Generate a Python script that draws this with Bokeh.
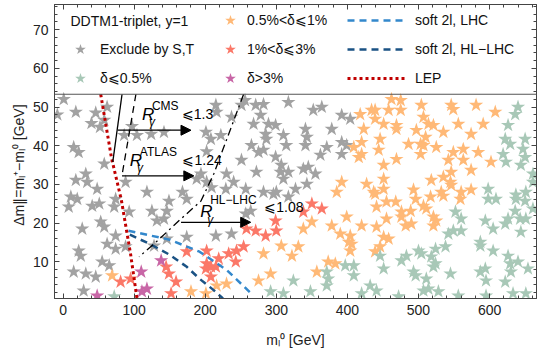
from bokeh.plotting import figure
from bokeh.models import (Range1d, LinearAxis, SingleIntervalTicker, Span, Label,
                          Legend, LegendItem, Arrow, NormalHead, CustomLabelingPolicy)
from bokeh.embed import file_html
from bokeh.resources import INLINE

FONT = "Liberation Sans"

# ---------------- data ----------------
grey_x = [1, 18, 46, 58, 52, 40, 62, 86, 104, 124, 142, 15, 22, 58, 32, 18, 34, 48, 88, 118,
          194, 202, 208, 201, -8, 97, 202, 251, 188, 209, 168, 256, 216,
          215, 251, 271, 282, 317, 352, 364, 237, 268, 278, 289, 299, 285, 286, 310, 222, 341,
          343, 378, 392, 404, 392, 399, 392, 265, 275, 282, 314, 341, 371, 362, 299, 307, 272,
          306, 317, 338, 345, 355, 230, 240, 310, 343, 327, 282, 300, 257, 229,
          11, 20, 8, 41, 51, 74, 72, 93, 125, 146, 149, 132, 142, 27, 53, 58, 74, 62, 74, 88,
          22, 25, 55, 65, 15, 32, 46, 29, 174, 128, 146, 174,
          264, 257, 215, 237, 296, 317]
grey_y = [52, 48.7, 48.5, 46.6, 44.8, 45.8, 50, 42.7, 42.7, 43, 43.5, 39.6, 38.3, 35.3, 32.7, 31.1,
          30.6, 28.8, 30.6, 28, 32.7, 30.6, 41.7, 43.5, 48, 45, 38.5, 36.3, 31.4, 29.2, 28, 51.7, 48.7,
          50.5, 50.5, 50.5, 50.7, 51.2, 49.2, 50, 47.4, 45.6, 47.9, 45.6, 45.3, 43, 41.7, 42.7, 42.7,
          44.3, 42.2, 44.3, 47.9, 46.9, 40.9, 40.1, 37.8, 40.1, 38.3, 38.9, 40.1, 40.1, 39.6, 37.6,
          37.1, 35, 33.2, 33.2, 33.2, 34, 34.5, 32.7, 32.7, 30.6, 31.4, 30.1, 28.8, 28, 28, 28.8, 28.8,
          26.8, 26.2, 24.2, 24.4, 25, 26.2, 24.2, 22.9, 23.1, 23.1, 25.7, 20.6, 21.1, 18.5, 20.3, 19,
          16.7, 14.6, 13.3, 13.9, 12.8, 11.5, 10, 9, 7.4, 6.9, 6.1, 2.5, 16.4, 14.1, 15.9, 26.2,
          23.1, 22.4, 16.7, 17.2, 27.5, 26.8]

orange_x = [418, 434, 423, 420, 409, 420, 416, 392, 427, 385, 437,
            462, 475, 439, 458, 475, 504, 546, 549, 581, 608, 439, 451, 469, 469, 507, 514, 521, 556,
            591, 497, 535, 574, 446, 510, 486, 503, 507, 503, 525, 444, 549, 563, 584, 469, 542, 563,
            602, 451, 546, 574, 451, 518, 535, 545, 546, 451, 493, 532, 560, 574, 439,
            69, 180, 201,
            399, 378, 420, 350, 338, 390, 404, 402, 406, 404, 307, 331, 282, 322, 373, 383, 357, 292,
            275, 216, 230,
            441, 455, 468, 496, 517, 535, 559, 507, 511, 476, 489, 455, 476, 521, 525, 441, 482, 490,
            521, 451, 458, 446, 439]
orange_y = [48.1, 49.2, 44.3, 40.9, 39.6, 37.8, 37, 30.6, 30.1, 28, 28,
            52, 51.7, 49.2, 49.2, 49.2, 50.5, 50.5, 49.4, 50.5, 48.7, 46.9, 45.6, 45.3, 44.3, 47.4,
            45.6, 45.3, 45.6, 45.6, 44, 43.5, 43, 41.7, 42.2, 40.4, 40.4, 40.1, 37.8, 39.6, 38.9,
            38.3, 39.1, 38.3, 36.5, 36.3, 36.3, 35.8, 35, 33.2, 33.7, 31.4, 31.1, 31.9, 30.6, 29.8,
            28.8, 28.6, 28, 28, 28.6, 27.5,
            6.4, 2.3, 1.8,
            21.6, 19.3, 19.3, 20.3, 18.5, 17.2, 16.7, 15.1, 14.6, 12.8, 14.1, 13.9, 12.1, 11.5, 10,
            9.5, 7.4, 6.9, 5.1, 3.8, 4.3,
            24.2, 25.5, 25.5, 26.2, 26.8, 27, 26.2, 24.4, 23.7, 22.9, 23.1, 21.1, 21.6, 21.6, 20.6,
            19, 19.3, 19.8, 19.3, 16.4, 15.9, 13.9, 12.6]

red_x = [81, 95, 145, 149, 159, 152, 174, 202, 201, 208, 202, 208,
         350, 338, 364, 299, 271, 258, 300, 285, 254, 244, 233, 243, 219, 215]
red_y = [4.8, 5.6, 8.7, 6.9, 4.8, 1.8, 12.6, 9.5, 8.2, 8.7, 12.8, 6.1,
         25, 22.9, 23.7, 20.6, 18, 18.5, 18, 16.7, 13.9, 12.8, 12.1, 10, 10.8, 8.7]

magenta_x = [138, 110, 118, 111, 48]
magenta_y = [10.3, 7.4, 3, 2.3, 1.2]

green_x = [72,
           640, 636, 626, 622, 650, 629, 647, 619, 623, 650, 644, 661, 598, 637, 651, 661,
           397, 409, 371, 373, 409, 324, 371, 432, 292, 310, 348, 420,
           598, 609, 637, 650, 636, 552, 560, 594, 622, 626, 643, 651, 605, 549, 560, 542, 644, 587,
           587, 538, 524, 605, 500, 504, 483, 476, 518, 524, 521, 446, 451, 493, 496, 545, 511, 514,
           507, 528, 587, 594, 595, 622, 629, 640, 654, 626, 630, 556, 595, 633, 651, 441, 472, 661]
green_y = [1,
           50, 48.1, 45.3, 41.7, 41.7, 40.4, 39.1, 37.8, 35.8, 37, 35, 32.7, 28.8, 27.3, 28, 30.6,
           9, 9, 7.4, 5.6, 6.4, 5.1, 3.8, 3.8, 2.3, 1.8, 2.3, 1.8,
           26.2, 26.2, 26.2, 25.7, 23.1, 22.9, 21.1, 20.6, 19.8, 21.1, 21.1, 21.1, 18.5, 18, 18, 17.2,
           17.7, 15.1, 14.1, 13.9, 13.3, 12.8, 12.8, 12.1, 11.5, 10.3, 11.3, 9.5, 8.7, 11.5, 8.2, 7.4,
           6.4, 6.9, 5.6, 3, 2.5, 2.3, 7.4, 8.2, 5.1, 4.8, 9.5, 10, 8.2, 11.5, 7.4, 1.2, 1.2, 1.8, 1.8,
           2.5, 1, 23.7]

lep_x = [53, 68, 82, 95, 104]
lep_y = [53.3, 37, 26, 12, 0.5]
lhc_x = [92, 150, 192, 230, 265]
lhc_y = [18, 15.7, 12.6, 7.9, 1.75]
hllhc_x = [94, 122, 150, 174, 192, 211, 225]
hllhc_y = [17, 14.6, 11.8, 8.7, 5.6, 2.8, 0.5]

cms_x = [83, 70]
cms_y = [53.3, 35.8]
atlas_x = [102.5, 83]
atlas_y = [53.3, 32.4]
hlr_x = [254, 212, 194, 166, 128, 107]
hlr_y = [53.3, 32.7, 25.7, 21.1, 14.6, 11.3]

# arrows: (x_start, x_end, y)
arrow_cms = (77, 180, 44)
arrow_atlas = (83, 184, 32.2)
arrow_hl = (166, 264, 20.2)

sep_y = 53.3

# ---------------- figure ----------------
FH = 294
p = figure(frame_width=482, frame_height=FH,
           x_range=Range1d(-12, 666), y_range=Range1d(0.5, 76.5),
           output_backend="svg", toolbar_location=None,
           min_border_left=54, min_border_right=2, min_border_top=2, min_border_bottom=4,
           background_fill_color="white", border_fill_color="white",
           outline_line_color="#444444", outline_line_width=1)
p.xgrid.visible = False
p.ygrid.visible = False

xt = SingleIntervalTicker(interval=100, num_minor_ticks=5)
yt = SingleIntervalTicker(interval=10, num_minor_ticks=5)


def style_axis(ax, show_labels=True):
    ax.axis_line_color = "#444444"
    ax.major_tick_line_color = "#444444"
    ax.minor_tick_line_color = "#444444"
    ax.major_tick_in = 5
    ax.major_tick_out = 0
    ax.minor_tick_in = 3
    ax.minor_tick_out = 0
    ax.major_label_text_font = FONT
    ax.major_label_text_color = "#222222"
    ax.axis_label_text_font = FONT
    ax.axis_label_text_font_size = "14px"
    ax.axis_label_text_font_style = "normal"
    ax.axis_label_text_color = "#222222"
    if show_labels:
        ax.major_label_text_font_size = "14px"
        ax.major_label_standoff = 6
    else:
        ax.major_label_text_font_size = "1px"
        ax.major_label_standoff = 0
        ax.major_label_policy = CustomLabelingPolicy(code="return new Set()")


p.xaxis.ticker = xt
p.yaxis.ticker = yt
style_axis(p.xaxis[0])
style_axis(p.yaxis[0])
p.xaxis.axis_label = "mₗ⁰ [GeV]"
p.xaxis.axis_label_standoff = 14
# trailing no-break spaces move the title slightly below the frame centre, as in the reference
p.yaxis.axis_label = "Δm∥=mₗ⁺−mₗ⁰ [GeV]" + "\u00a0" * 7
p.yaxis.axis_label_standoff = 3

top_ax = LinearAxis(ticker=xt)
style_axis(top_ax, False)
p.add_layout(top_ax, "above")
right_ax = LinearAxis(ticker=yt)
style_axis(right_ax, False)
p.add_layout(right_ax, "right")

p.add_layout(Span(location=sep_y, dimension="width", line_color="#555555", line_width=1.2))

# ---------------- stars ----------------
STAR = 15
r_grey = p.scatter(grey_x, grey_y, marker="star", size=STAR, fill_color="#a2a2a2", line_color=None)
r_orange = p.scatter(orange_x, orange_y, marker="star", size=STAR, fill_color="#ffb977", line_color=None)
r_green = p.scatter(green_x, green_y, marker="star", size=STAR, fill_color="#a8c8b7", line_color=None)
r_red = p.scatter(red_x, red_y, marker="star", size=STAR, fill_color="#fb7868", line_color=None)
r_mag = p.scatter(magenta_x, magenta_y, marker="star", size=STAR, fill_color="#c866a6", line_color=None)

# ---------------- limit lines ----------------
r_lhc = p.line(lhc_x, lhc_y, line_color="#3388cc", line_width=2.5, line_dash="7 5")
r_hl = p.line(hllhc_x, hllhc_y, line_color="#1a5284", line_width=2.5, line_dash="7 5")
r_lep = p.line(lep_x, lep_y, line_color="#c00000", line_width=3, line_dash="3 3")

p.line(cms_x, cms_y, line_color="black", line_width=1.3)
p.line(atlas_x, atlas_y, line_color="black", line_width=1.3, line_dash="7 5")
p.line(hlr_x, hlr_y, line_color="black", line_width=1.3, line_dash="8 4 2 4")

for (xs, xe, yy) in (arrow_cms, arrow_atlas, arrow_hl):
    p.add_layout(Arrow(end=NormalHead(size=10, fill_color="black", line_color="black"),
                       x_start=xs, y_start=yy, x_end=xe, y_end=yy,
                       line_color="black", line_width=1.3))


def lab(x, y, text, size, italic=False):
    p.add_layout(Label(x=x, y=y, text=text, text_font=FONT, text_font_size=size,
                       text_font_style="italic" if italic else "normal",
                       text_baseline="middle", text_align="left", text_color="black"))


# R_gamma annotations
lab(111, 48.1, "R", "17px", True)
lab(121, 46.0, "γ", "12px", True)
lab(125, 50.3, "CMS", "12px")
lab(167, 48.1, "⩽1.3", "14px")

lab(94, 36.3, "R", "17px", True)
lab(104, 34.2, "γ", "12px", True)
lab(108, 38.3, "ATLAS", "12px")
lab(168, 36.3, "⩽1.24", "14px")

lab(193, 22.9, "R", "17px", True)
lab(203, 20.8, "γ", "12px", True)
lab(207, 25.9, "HL−LHC", "12px")
lab(283, 24.2, "⩽1.08", "14px")

# ---------------- legend ----------------
dummy = p.scatter([], [], marker="star", size=STAR, fill_alpha=0, line_alpha=0)
LEG_BOTTOM = FH - 2 - 86


def make_legend(items, x, glyph_w, standoff):
    lg = Legend(items=items, location=(x, LEG_BOTTOM), orientation="vertical",
                glyph_width=glyph_w, glyph_height=28, label_height=28, spacing=1,
                padding=0, margin=0, label_standoff=standoff,
                label_text_font=FONT, label_text_font_size="14px", label_text_color="#111111",
                border_line_alpha=0, background_fill_alpha=0)
    p.add_layout(lg, "center")


make_legend([LegendItem(label=" ", renderers=[dummy]),
             LegendItem(label="Exclude by S,T", renderers=[r_grey]),
             LegendItem(label="δ⩽0.5%", renderers=[r_green])], 12, 28, 6)
make_legend([LegendItem(label="0.5%<δ⩽1%", renderers=[r_orange]),
             LegendItem(label="1%<δ⩽3%", renderers=[r_red]),
             LegendItem(label="δ>3%", renderers=[r_mag])], 162, 28, 3)
make_legend([LegendItem(label="soft 2l, LHC", renderers=[r_lhc]),
             LegendItem(label="soft 2l, HL−LHC", renderers=[r_hl]),
             LegendItem(label="LEP", renderers=[r_lep])], 293, 58, 10)

p.add_layout(Label(x=16, y=FH - 16, x_units="screen", y_units="screen",
                   text="DDTM1-triplet, y=1", text_font=FONT, text_font_size="14px",
                   text_baseline="middle", text_color="#111111"))

open("out.html", "w").write(file_html(p, INLINE))
